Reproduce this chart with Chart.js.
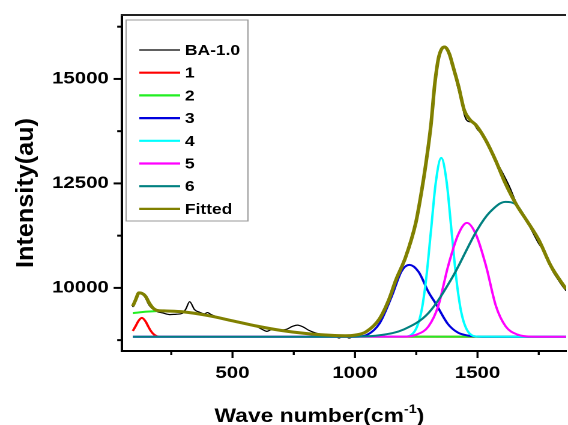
<!DOCTYPE html>
<html>
<head>
<meta charset="utf-8">
<script src="https://cdn.jsdelivr.net/npm/chart.js@4.4.0/dist/chart.umd.min.js"></script>
<style>
  html, body { margin: 0; padding: 0; background: #fff; overflow: hidden; }
  /* the source picture is stretched sideways, so the chart is drawn narrow and widened */
  #wrap { position: relative; width: 473px; height: 425px; transform: scaleX(1.2008); transform-origin: 0 0; }
</style>
</head>
<body>
<div id="wrap"><canvas id="chart"></canvas></div>
<script>
// measured spectrum BA-1.0
const rawWave = [93, 105, 118, 132, 145, 158, 170, 190, 215, 244, 270, 295, 310, 325, 345, 365, 385, 398, 410, 440, 470, 500, 530, 560, 590, 620, 640, 660, 690, 720, 745, 765, 790, 810, 840, 870, 900, 920, 935, 950, 965, 976, 990, 1010, 1045, 1075, 1100, 1125, 1150, 1175, 1200, 1225, 1250, 1270, 1290, 1310, 1326, 1341, 1355, 1366, 1385, 1400, 1423, 1435, 1446, 1460, 1480, 1500, 1520, 1545, 1573, 1600, 1630, 1660, 1690, 1720, 1750, 1780, 1801, 1830, 1845, 1862];
const rawIntensity = [9540, 9750, 9890, 9860, 9760, 9600, 9520, 9440, 9400, 9360, 9370, 9390, 9500, 9670, 9480, 9420, 9380, 9410, 9370, 9300, 9250, 9220, 9170, 9140, 9100, 9010, 8960, 9000, 8990, 9010, 9080, 9110, 9060, 8990, 8920, 8880, 8850, 8840, 8800, 8845, 8830, 8800, 8830, 8860, 8960, 9090, 9270, 9560, 9950, 10300, 10680, 11100, 11580, 12230, 13050, 13980, 14950, 15520, 15740, 15780, 15560, 15280, 14720, 14480, 14150, 13990, 13960, 13790, 13660, 13380, 13060, 12780, 12430, 12010, 11720, 11390, 11060, 10810, 10470, 10190, 10060, 9930];

// fitted peaks 1..6
const peak1Wave = [93, 105, 115, 130, 145, 155, 165, 175, 185, 200, 1862];
const peak1Intensity = [8970, 9090, 9200, 9282, 9200, 9090, 8985, 8908, 8863, 8836, 8830];

const peak2Wave = [93, 150, 220, 300, 400, 500, 600, 700, 800, 900, 1000, 1100, 1862];
const peak2Intensity = [9397, 9431, 9450, 9426, 9338, 9213, 9085, 8980, 8908, 8866, 8845, 8835, 8830];

const peak3Wave = [93, 1000, 1050, 1100, 1150, 1190, 1222, 1260, 1300, 1330, 1380, 1420, 1460, 1520, 1862];
const peak3Intensity = [8830, 8832, 8880, 9150, 9800, 10400, 10550, 10380, 9900, 9620, 9130, 8930, 8860, 8832, 8830];

const peak4Wave = [93, 1200, 1240, 1270, 1290, 1310, 1330, 1352, 1374, 1394, 1414, 1434, 1464, 1504, 1862];
const peak4Intensity = [8830, 8834, 8933, 9409, 10194, 11363, 12536, 13110, 12536, 11363, 10194, 9409, 8933, 8834, 8830];

const peak5Wave = [93, 1200, 1250, 1300, 1340, 1380, 1420, 1457, 1495, 1535, 1575, 1615, 1665, 1720, 1862];
const peak5Intensity = [8830, 8833, 8880, 9080, 9570, 10520, 11260, 11555, 11260, 10520, 9570, 9080, 8880, 8835, 8830];

const peak6Wave = [93, 900, 1000, 1100, 1200, 1300, 1400, 1500, 1550, 1614, 1660, 1700, 1750, 1800, 1862];
const peak6Intensity = [8830, 8831, 8835, 8867, 9008, 9400, 10280, 11400, 11810, 12057, 11980, 11620, 11150, 10520, 9970];

// cumulative fit
const fitWave = [93, 105, 118, 130, 145, 160, 175, 190, 220, 300, 400, 500, 600, 700, 800, 900, 960, 1000, 1045, 1100, 1138, 1167, 1207, 1248, 1270, 1290, 1310, 1326, 1341, 1355, 1366, 1385, 1400, 1423, 1446, 1470, 1493, 1533, 1573, 1614, 1660, 1700, 1750, 1800, 1862];
const fitIntensity = [9560, 9720, 9880, 9870, 9800, 9640, 9520, 9465, 9450, 9426, 9338, 9213, 9085, 8980, 8908, 8866, 8855, 8870, 8950, 9260, 9713, 10190, 10742, 11555, 12250, 13000, 13900, 14900, 15500, 15730, 15765, 15600, 15300, 14816, 14250, 14020, 13900, 13541, 13062, 12500, 11980, 11620, 11150, 10520, 9970];

const seriesNames = ['BA-1.0', '1', '2', '3', '4', '5', '6', 'Fitted'];

const xTicks = [250, 500, 750, 1000, 1250, 1500, 1750];
const xLabelled = [500, 1000, 1500];
const yTicks = [8750, 10000, 11250, 12500, 13750, 15000, 16250];
const yLabelled = [10000, 12500, 15000];

const xTitle = 'Wave number(cm';
const xTitleSup = '-1';
const yTitle = 'Intensity(au)';

const FONT = '"Liberation Sans", Arial, sans-serif';

const toPoints = (xs, ys) => xs.map((x, i) => ({ x: x, y: ys[i] }));

const makeSet = (label, xs, ys, color, width, order) => ({
    label: label,
    data: toPoints(xs, ys),
    borderColor: color,
    backgroundColor: color,
    borderWidth: width,
    pointRadius: 0,
    showLine: true,
    fill: false,
    cubicInterpolationMode: 'monotone',
    order: order
});

// lower order is painted on top
const datasets = [
    makeSet(seriesNames[0], rawWave, rawIntensity, '#000000', 1.2, 7),
    makeSet(seriesNames[1], peak1Wave, peak1Intensity, '#ff0000', 2, 6),
    makeSet(seriesNames[2], peak2Wave, peak2Intensity, '#22ee22', 2, 5),
    makeSet(seriesNames[3], peak3Wave, peak3Intensity, '#0000dd', 2, 4),
    makeSet(seriesNames[4], peak4Wave, peak4Intensity, '#00ffff', 2, 3),
    makeSet(seriesNames[5], peak5Wave, peak5Intensity, '#ff00ff', 2, 2),
    makeSet(seriesNames[6], peak6Wave, peak6Intensity, '#008080', 2, 1),
    makeSet(seriesNames[7], fitWave, fitIntensity, '#808000', 3, 0)
];

// tick marks, top frame, legend box and axis titles
const decorations = {
    id: 'decorations',
    afterDraw(chart) {
        const { ctx, chartArea: a, scales: { x, y } } = chart;
        ctx.save();

        // top frame line
        ctx.strokeStyle = '#222';
        ctx.lineWidth = 2;
        ctx.beginPath();
        ctx.moveTo(a.left - 1, a.top);
        ctx.lineTo(a.right, a.top);
        ctx.stroke();

        ctx.strokeStyle = '#000';
        // x ticks, pointing down
        ctx.lineWidth = 1.7;
        xTicks.forEach((v) => {
            const px = x.getPixelForValue(v);
            const len = xLabelled.includes(v) ? 7 : 4;
            ctx.beginPath();
            ctx.moveTo(px, a.bottom);
            ctx.lineTo(px, a.bottom + len);
            ctx.stroke();
        });
        // y ticks, pointing left
        ctx.lineWidth = 2;
        yTicks.forEach((v) => {
            const py = y.getPixelForValue(v);
            const len = yLabelled.includes(v) ? 7 : 4;
            ctx.beginPath();
            ctx.moveTo(a.left, py);
            ctx.lineTo(a.left - len, py);
            ctx.stroke();
        });

        // legend
        ctx.strokeStyle = '#999';
        ctx.lineWidth = 1;
        ctx.strokeRect(105, 20, 101.5, 201);
        ctx.font = 'bold 14.5px ' + FONT;
        ctx.textBaseline = 'middle';
        ctx.textAlign = 'left';
        ctx.fillStyle = '#000';
        chart.data.datasets.forEach((ds, i) => {
            const rowY = 50 + i * 22.7;
            ctx.strokeStyle = ds.borderColor;
            ctx.lineWidth = i === 0 ? 1.2 : 2.2;
            ctx.beginPath();
            ctx.moveTo(116, rowY);
            ctx.lineTo(150, rowY);
            ctx.stroke();
            ctx.fillText(ds.label, 154, rowY + 1);
        });

        // x title with superscript
        ctx.font = 'bold 19px ' + FONT;
        const wMain = ctx.measureText(xTitle).width;
        const wClose = ctx.measureText(')').width;
        ctx.font = 'bold 12px ' + FONT;
        const wSup = ctx.measureText(xTitleSup).width;
        let tx = 266 - (wMain + wSup + wClose) / 2;
        ctx.textBaseline = 'alphabetic';
        ctx.font = 'bold 19px ' + FONT;
        ctx.fillText(xTitle, tx, 422);
        tx += wMain;
        ctx.font = 'bold 12px ' + FONT;
        ctx.fillText(xTitleSup, tx, 413);
        tx += wSup;
        ctx.font = 'bold 19px ' + FONT;
        ctx.fillText(')', tx, 422);

        // y title, rotated
        ctx.save();
        ctx.translate(22, 193);
        ctx.rotate(-Math.PI / 2);
        ctx.font = 'bold 20px ' + FONT;
        const wy = ctx.measureText(yTitle).width;
        ctx.scale(150 / wy, 1);
        ctx.textAlign = 'center';
        ctx.textBaseline = 'middle';
        ctx.fillText(yTitle, 0, 0);
        ctx.restore();

        ctx.restore();
    }
};

new Chart(document.getElementById('chart'), {
    type: 'scatter',
    data: { datasets: datasets },
    options: {
        responsive: true,
        maintainAspectRatio: false,
        animation: false,
        devicePixelRatio: 2,
        layout: { padding: { top: 15, right: 0, left: 0, bottom: 0 } },
        plugins: {
            legend: { display: false },
            tooltip: { enabled: false }
        },
        scales: {
            x: {
                type: 'linear',
                min: 49,
                max: 1862,
                afterFit: (scale) => {
                    scale.height = 74;
                    scale.paddingLeft = 0;
                    scale.paddingRight = 0;
                },
                afterBuildTicks: (scale) => { scale.ticks = xTicks.map((v) => ({ value: v })); },
                grid: { display: false, drawTicks: false },
                border: { display: true, color: '#000', width: 2 },
                ticks: {
                    padding: 12,
                    color: '#000',
                    font: { family: FONT, size: 17, weight: 'bold' },
                    maxRotation: 0,
                    autoSkip: false,
                    callback: (v) => xLabelled.includes(v) ? String(v) : ''
                }
            },
            y: {
                type: 'linear',
                min: 8490,
                max: 16530,
                afterFit: (scale) => {
                    scale.width = 101.6;
                    scale.paddingTop = 0;
                    scale.paddingBottom = 0;
                },
                afterBuildTicks: (scale) => { scale.ticks = yTicks.map((v) => ({ value: v })); },
                grid: { display: false, drawTicks: false },
                border: { display: true, color: '#000', width: 2 },
                ticks: {
                    padding: 11,
                    color: '#000',
                    font: { family: FONT, size: 17, weight: 'bold' },
                    autoSkip: false,
                    callback: (v) => yLabelled.includes(v) ? String(v) : ''
                }
            }
        }
    },
    plugins: [decorations]
});
</script>
</body>
</html>
